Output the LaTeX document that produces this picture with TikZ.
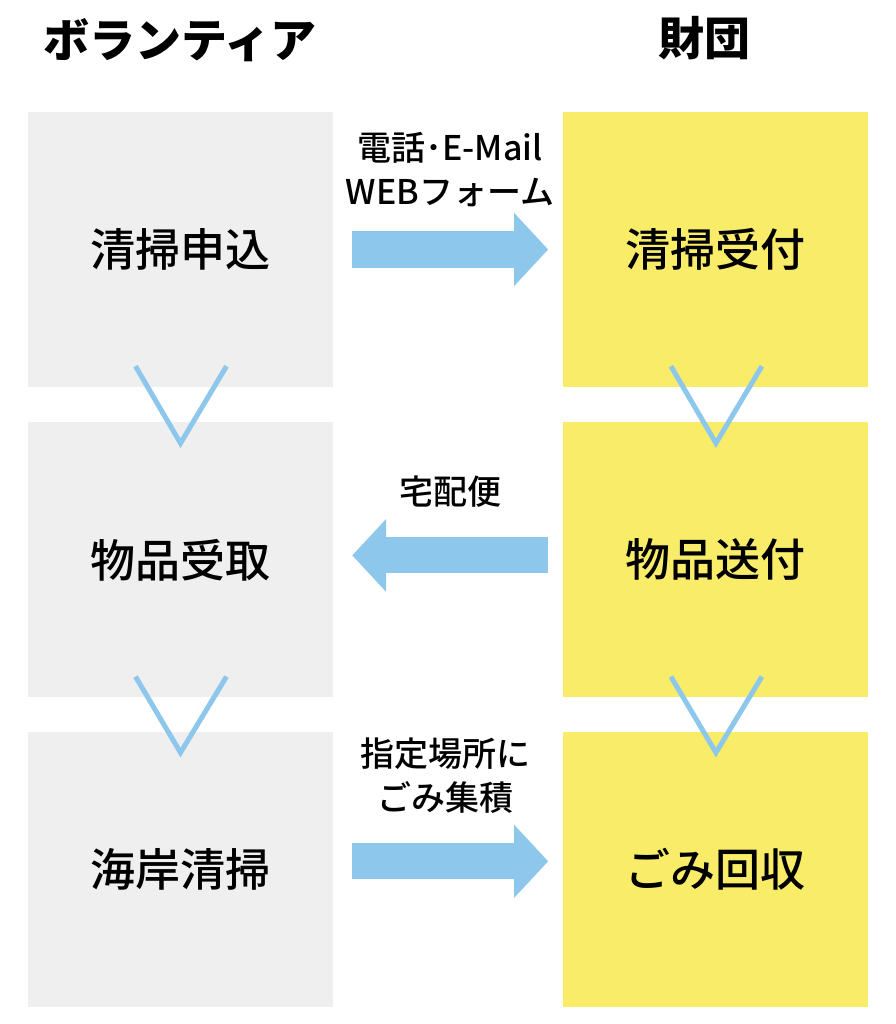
\documentclass[tikz,border=0pt]{standalone}
\usepackage{fontspec}
\setmainfont{Noto Sans CJK JP}
\newfontfamily\mediumfont{Noto Sans CJK JP Medium}
\usetikzlibrary{positioning}
\usetikzlibrary{arrows.meta}
\definecolor{boxgray}{HTML}{EFEFEF}
\definecolor{boxyellow}{HTML}{F9EC68}
\definecolor{flowblue}{HTML}{8DC8EC}
\tikzset{
        stepnode/.style={align=center, inner sep=0pt, minimum width=305pt, minimum height=275pt, text=black, font=\mediumfont\fontsize{45}{54}\selectfont},
        % Volunteer steps
        node_volunteer/.style={stepnode, fill=boxgray},
        % Foundation steps
        node_foundation/.style={stepnode, fill=boxyellow},
        % Column heads
        node_head/.style={align=center, inner sep=0pt, font=\fontsize{46}{54}\selectfont\bfseries},
        % Labels over the arrows
        node_label/.style={align=center, inner sep=0pt, text=black, font=\mediumfont\fontsize{34}{44}\selectfont},
        % Arrows
        fat_arrow/.style={draw=flowblue, line width=36pt, -{Triangle[width=71pt, length=34pt]}},
        chevron/.style={draw=flowblue, line width=5pt}
}
\begin{document}
\begin{tikzpicture}[x=1pt, y=-1pt]
            \useasboundingbox (0,0) rectangle (895,1024);
            \node[node_head] (h_vol) at (180,40) {ボランティア};
            \node[node_head] (h_fnd) at (704,38) {財団};

            \node[node_volunteer] (s1) at (180.5,249.5) {清掃申込};
            \node[node_volunteer, below=35pt of s1] (s2) {物品受取};
            \node[node_volunteer, below=34pt of s2] (s3) {海岸清掃};
            \node[node_foundation, right=230pt of s1] (r1) {清掃受付};
            \node[node_foundation, below=35pt of r1] (r2) {物品送付};
            \node[node_foundation, below=34pt of r2] (r3) {ごみ回収};

            \node[node_label] (l1) at (450,170) {電話･E-Mail\\WEBフォーム};
            \node[node_label] (l2) at (450,492) {宅配便};
            \node[node_label] (l3) at (445,776) {指定場所に\\ごみ集積};

            \draw[fat_arrow] ([xshift=19pt]s1.east) -- ([xshift=-15pt]r1.west);
            \draw[fat_arrow] ([xshift=-15pt,yshift=4.5pt]r2.west) -- ([xshift=19pt,yshift=4.5pt]s2.east);
            \draw[fat_arrow] ([xshift=19pt,yshift=8pt]s3.east) -- ([xshift=-15pt,yshift=8pt]r3.west);

            \draw[chevron] ([xshift=-45pt,yshift=21pt]s1.south) -- ([yshift=-21pt]s2.north) -- ([xshift=46pt,yshift=21pt]s1.south);
            \draw[chevron] ([xshift=-45pt,yshift=21pt]s2.south) -- ([yshift=-21pt]s3.north) -- ([xshift=46pt,yshift=21pt]s2.south);
            \draw[chevron] ([xshift=-45pt,yshift=21pt]r1.south) -- ([yshift=-21pt]r2.north) -- ([xshift=46pt,yshift=21pt]r1.south);
            \draw[chevron] ([xshift=-45pt,yshift=21pt]r2.south) -- ([yshift=-21pt]r3.north) -- ([xshift=46pt,yshift=21pt]r2.south);
\end{tikzpicture}
\end{document}
